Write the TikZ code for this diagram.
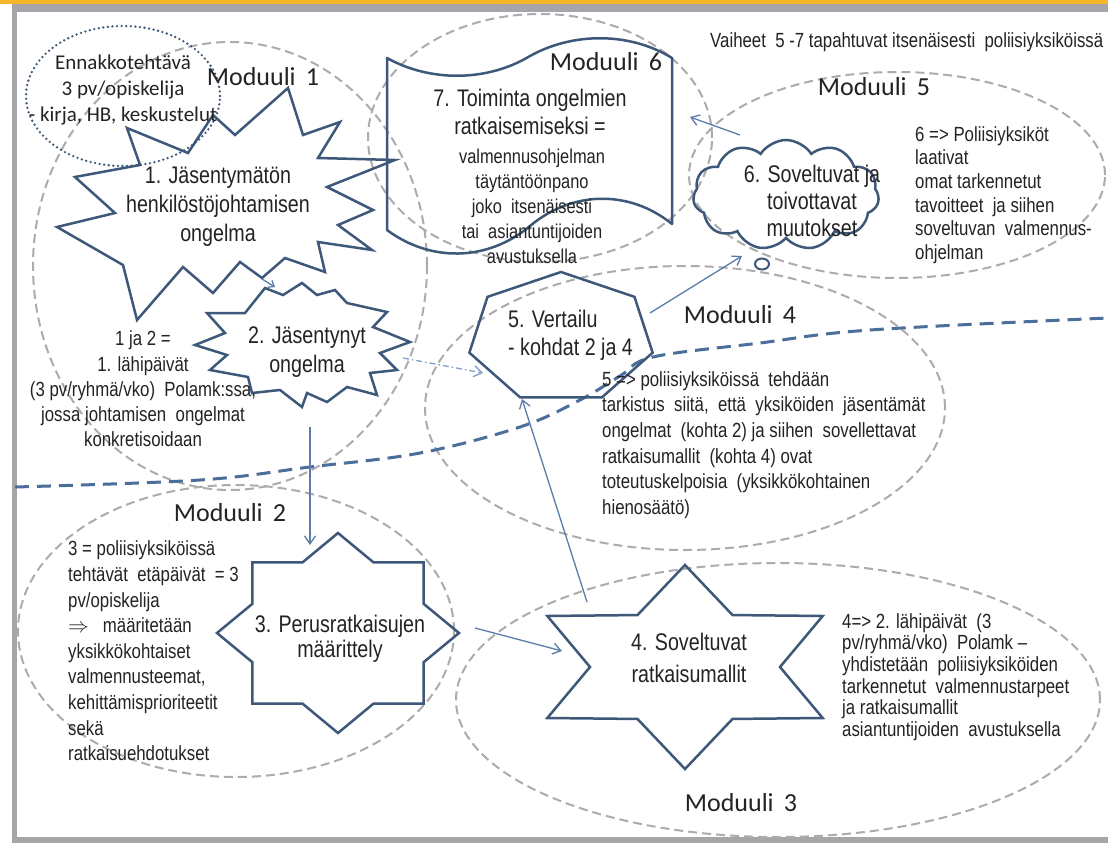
\documentclass[tikz,border=0pt]{standalone}
\usepackage{fontspec}
\setmainfont{Liberation Sans}
\newfontfamily\nar[FakeStretch=0.82,Ligatures=TeX]{Liberation Sans}
\newfontfamily\calib{Carlito}
\usetikzlibrary{arrows.meta,shapes.symbols}
\definecolor{shp}{RGB}{62,88,122}
\definecolor{mgray}{RGB}{172,172,172}
\definecolor{bdash}{RGB}{75,110,155}
\definecolor{arr}{RGB}{90,125,170}
\definecolor{arrl}{RGB}{130,160,200}
\definecolor{orng}{RGB}{247,182,41}
\definecolor{fgray}{RGB}{165,165,170}
\definecolor{txt}{RGB}{35,35,35}
\begin{document}
\begin{tikzpicture}[x=1pt,y=-1pt,
  modell/.style={draw=mgray, line width=2pt, dash pattern=on 9pt off 5pt},
  outline/.style={draw=shp, line width=2.5pt, line join=miter},
  conn/.style={draw=arr, line width=1.3pt, -{Straight Barb[length=8pt,width=11pt]}},
  modlab/.style={font=\calib\fontsize{26}{30}\selectfont, text=txt, inner sep=0},
  big/.style={font=\nar\fontsize{24}{29}\selectfont, text=txt, inner sep=0, align=center},
  small/.style={text=txt, inner sep=0}]
\useasboundingbox (0,0) rectangle (1108,843);
\fill[white] (0,0) rectangle (1108,843);
% frame
\fill[orng] (0,0) rectangle (1108,4);
\fill[fgray] (12,4) rectangle (1108,12);
\fill[fgray] (12,4) rectangle (17,843);
\fill[fgray] (12,837) rectangle (1108,843);

% module ellipses
\draw[modell] (230,266) ellipse [x radius=197pt, y radius=224pt];
\draw[modell] (540,138) ellipse [x radius=172pt, y radius=124pt];
\draw[modell] (897,175) ellipse [x radius=208pt, y radius=103pt];
\draw[modell] (685,408) ellipse [x radius=260pt, y radius=142pt];
\draw[modell] (236,631) ellipse [x radius=218pt, y radius=146pt];
\draw[modell] (778,700) ellipse [x radius=322pt, y radius=137pt];

% dotted circle
\draw[shp, line width=2.6pt, dash pattern=on 0pt off 4.6pt, line cap=round] (123,96) ellipse [x radius=97pt, y radius=70pt];

% big dashed blue curve
\draw[bdash, line width=3pt, dash pattern=on 14pt off 8pt] plot[smooth, tension=0.6] coordinates {(15,487) (200,480) (310,467) (420,453) (520,427) (580,400) (620,376) (653,357) (760,343) (870,330) (1108,318)};

% explosion 1
\draw[outline] (127,128) -- (188,153) -- (213,115) -- (235,135) -- (288,88) -- (303,135) -- (340,122) -- (318,158) -- (395,160) -- (327,187) -- (373,210) -- (338,225) -- (372,250) -- (318,242) -- (325,272) -- (285,258) -- (262,278) -- (240,262) -- (213,293) -- (183,267) -- (137,320) -- (123,265) -- (57,227) -- (115,213) -- (75,177) -- (140,165) -- cycle;

% explosion 2
\draw[outline] (195,345) -- (225,333) -- (207,313) -- (245,313) -- (265,288) -- (283,295) -- (302,283) -- (317,295) -- (335,290) -- (347,303) -- (387,312) -- (373,327) -- (410,342) -- (380,353) -- (397,370) -- (370,373) -- (377,395) -- (347,387) -- (327,402) -- (307,393) -- (302,407) -- (280,390) -- (252,393) -- (248,377) -- (210,370) -- (227,355) -- cycle;

% scroll
\draw[outline, line join=round] (387,58) .. controls (430,82) and (487,82) .. (530,56) .. controls (573,32) and (630,32) .. (672,58) -- (672,224) .. controls (630,190) and (573,190) .. (530,226) .. controls (487,262) and (430,262) .. (387,230) -- cycle;

% cloud
\node[cloud, draw=shp, line width=2.5pt, cloud puffs=11, cloud puff arc=115, aspect=1.66, minimum width=186pt, minimum height=110pt, inner sep=0] (cl) at (786,195) {};
\draw[shp, line width=2pt] (762,264) ellipse [x radius=7pt, y radius=5.5pt];

% heptagon
\draw[outline] plot[samples at={0,...,6}, variable=\k] ({561+94*cos(90+360/7*\k)}, {338-66*sin(90+360/7*\k)}) -- cycle;

% 8-point star
\draw[outline] plot[samples at={0,...,15}, variable=\k] ({338+121*(1-0.235*mod(\k,2))*cos(90+22.5*\k)}, {633-100*(1-0.235*mod(\k,2))*sin(90+22.5*\k)}) -- cycle;

% 6-point star
\draw[outline] plot[samples at={0,...,11}, variable=\k] ({685+(159-64*mod(\k,2))*cos(90+30*\k)}, {667-(102-42*mod(\k,2))*sin(90+30*\k)}) -- cycle;

% labels
\node[modlab] (m1) at (263,77) {Moduuli\, 1};
\node[modlab] (m6) at (606,62) {Moduuli\, 6};
\node[modlab] (m5) at (874,87) {Moduuli\, 5};
\node[modlab] (m4) at (740,315) {Moduuli\, 4};
\node[modlab] (m2) at (230,513) {Moduuli\, 2};
\node[modlab] (m3) at (741,803) {Moduuli\, 3};

\node[font=\calib\fontsize{21}{26}\selectfont, text=txt, inner sep=0, align=center] (enn) at (123,90) {Ennakkotehtävä\\3 pv/opiskelija\\- kirja, HB, keskustelut};

\node[small, font=\nar\fontsize{20.5}{24}\selectfont, anchor=west] (vai) at (710,42) {Vaiheet\ \ 5 -7 tapahtuvat itsenäisesti\ \ poliisiyksiköissä};

\node[big] (t1) at (218,207) {1. Jäsentymätön\\henkilöstöjohtamisen\\ongelma};
\node[big] (t2) at (307,352) {2. Jäsentynyt\\ongelma};
\node[big, font=\nar\fontsize{24}{28}\selectfont, align=left, anchor=west] (t5) at (508,335) {5. Vertailu\\- kohdat 2 ja 4};
\node[big, font=\nar\fontsize{24}{25}\selectfont] (t3) at (340,639) {3. Perusratkaisujen\\määrittely};
\node[big, font=\nar\fontsize{24}{32}\selectfont] (t4) at (689,658) {4. Soveltuvat\\ratkaisumallit};
\node[big, font=\nar\fontsize{24}{27}\selectfont] (t6) at (812,201) {6. Soveltuvat ja\\toivottavat\\muutokset};
\node[big, font=\nar\fontsize{24}{28}\selectfont] (t7a) at (530,112) {7. Toiminta ongelmien\\ratkaisemiseksi =};
\node[small, font=\nar\fontsize{20}{25}\selectfont, align=center] (t7b) at (532,206) {valmennusohjelman\\täytäntöönpano\\joko\ \ itsenäisesti\\tai\ \ asiantuntijoiden\\avustuksella};

\node[small, font=\nar\fontsize{20.5}{23.6}\selectfont, align=left, anchor=west] (t6d) at (915,195) {6 => Poliisiyksiköt\\laativat\\omat tarkennetut\\tavoitteet\ \ ja siihen\\soveltuvan\ \ valmennus-\\ohjelman};
\node[small, font=\nar\fontsize{20.5}{25.3}\selectfont, align=center] (t12d) at (143,389) {1 ja 2 =\\1. lähipäivät\\(3 pv/ryhmä/vko)\ \ Polamk:ssa,\\jossa johtamisen\ \ ongelmat\\konkretisoidaan};
\node[small, font=\nar\fontsize{20.5}{25.6}\selectfont, align=left, anchor=west] (t5d) at (602,445) {5 => poliisiyksiköissä\ \ tehdään\\tarkistus\ \ siitä,\ \ että\ \ yksiköiden\ \ jäsentämät\\ongelmat\ \ (kohta\ 2) ja siihen\ \ sovellettavat\\ratkaisumallit\ \ (kohta\ 4) ovat\\toteutuskelpoisia\ \ (yksikkökohtainen\\hienosäätö)};
\node[small, font=\nar\fontsize{20.5}{25.6}\selectfont, align=left, anchor=west] (t3d) at (68,651) {3 = poliisiyksiköissä\\tehtävät\ \ etäpäivät\ \ = 3\\pv/opiskelija\\$\Rightarrow$\ \ \ määritetään\\yksikkökohtaiset\\valmennusteemat,\\kehittämisprioriteetit\\sekä\\ratkaisuehdotukset};
\node[small, font=\nar\fontsize{20.5}{21.6}\selectfont, align=left, anchor=west] (t4d) at (842,677) {4=> 2. lähipäivät\ \ (3\\pv/ryhmä/vko)\ \ Polamk –\\yhdistetään\ \ poliisiyksiköiden\\tarkennetut\ \ valmennustarpeet\\ja ratkaisumallit\\asiantuntijoiden\ \ avustuksella};

% connectors
\coordinate (a1s) at (262,279); \coordinate (a1e) at (275,287);
\coordinate (a2s) at (403,358); \coordinate (a2e) at (483,373);
\coordinate (a3s) at (650,313); \coordinate (a3e) at (742,256);
\coordinate (a4s) at (740,135); \coordinate (a4e) at (690,117);
\coordinate (a5s) at (310,427); \coordinate (a5e) at (310,545);
\coordinate (a6s) at (475,628); \coordinate (a6e) at (562,651);
\coordinate (a7s) at (587,602); \coordinate (a7e) at (522,399);
\draw[conn, -{Straight Barb[length=5pt,width=8pt]}] (a1s) -- (a1e);
\draw[conn, draw=arrl, dash pattern=on 6pt off 3pt on 1.5pt off 3pt] (a2s) -- (a2e);
\draw[conn] (a3s) -- (a3e);
\draw[conn] (a4s) -- (a4e);
\draw[conn] (a5s) -- (a5e);
\draw[conn] (a6s) -- (a6e);
\draw[conn] (a7s) -- (a7e);
\end{tikzpicture}
\end{document}
